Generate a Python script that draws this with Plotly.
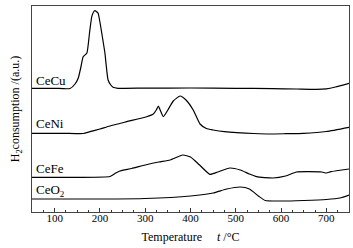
import plotly.graph_objects as go

# Temperature (°C) and H2 consumption (a.u., arbitrary offsets per curve)
cecu_t = [50, 100, 134, 145, 152, 158, 163, 171, 177, 182, 186, 189, 192, 196, 200, 204, 211, 218, 224, 229, 240, 300, 400, 500, 580, 634, 678, 700, 720, 750]
cecu_y = [123.7, 123.7, 123.5, 128, 133.7, 145, 155.3, 158.7, 179, 195.3, 200, 201.3, 200.5, 198.7, 190, 179, 159, 132, 127, 124.7, 123.7, 123.9, 124, 123.7, 123.4, 123, 122.7, 123.2, 125, 128.7]

ceni_t = [50, 120, 163, 178, 200, 222, 259, 303, 318, 325, 329, 333, 340, 350, 362, 377, 390, 406, 421, 435, 450, 475, 502, 540, 575, 610, 649, 700, 750]
ceni_y = [78.7, 78.7, 78.5, 80.3, 83, 86, 90.3, 95.3, 98, 102.5, 106, 102, 95.3, 102, 111, 116, 112, 102, 88, 83.5, 82, 80.3, 79.3, 78.5, 78, 78.3, 78.7, 80.5, 84.7]

cefe_t = [50, 150, 222, 235, 244, 270, 300, 330, 355, 383, 400, 420, 443, 460, 487, 510, 530, 546, 582, 610, 634, 660, 690, 700, 710, 750]
cefe_y = [34.7, 34.7, 35.5, 39, 41, 43.5, 47, 50, 52, 57, 55, 47, 37.7, 40, 44, 42, 38, 35.3, 34, 36, 40, 40.3, 40, 39, 40.3, 43]

ceo2_t = [50, 200, 300, 400, 450, 480, 510, 530, 550, 565, 600, 650, 700, 730, 750]
ceo2_y = [13, 13, 13.5, 16, 19, 23, 25, 23, 16, 11.5, 11, 11.5, 12.5, 14, 17]

labels = ["CeCu", "CeNi", "CeFe", "CeO<sub>2</sub>"]
label_y = [132, 89, 44, 22]

fig = go.Figure()
for t, y in [(cecu_t, cecu_y), (ceni_t, ceni_y), (cefe_t, cefe_y), (ceo2_t, ceo2_y)]:
    fig.add_trace(go.Scatter(x=t, y=y, mode="lines", line=dict(color="black", width=1.2, shape="spline", smoothing=0.5), showlegend=False))

for lab, ly in zip(labels, label_y):
    fig.add_annotation(x=55, y=ly, text=lab, showarrow=False, xanchor="left", yanchor="middle",
                       font=dict(family="Liberation Serif", size=13, color="black"))

fig.update_layout(
    width=353, height=248,
    margin=dict(l=32, r=4, t=6, b=36),
    plot_bgcolor="white", paper_bgcolor="white",
    font=dict(family="Liberation Serif", size=11, color="black"),
    xaxis=dict(range=[50, 750], tickvals=[100, 200, 300, 400, 500, 600, 700], automargin=False,
               ticks="inside", ticklen=4, tickcolor="#333", showgrid=False, zeroline=False,
               showline=True, linecolor="#444", linewidth=1, mirror=True, ticklabelstandoff=-4,
               minor=dict(dtick=25, ticks="inside", ticklen=2, tickcolor="#333"),
               title=dict(text="Temperature &nbsp;&nbsp;&nbsp; <i>t</i> /°C", standoff=9, font=dict(size=12))),
    yaxis=dict(range=[0, 206], showticklabels=False, ticks="", showgrid=False, zeroline=False, automargin=False,
               showline=True, linecolor="#444", linewidth=1, mirror=True,
               title=dict(text="H<sub>2</sub>consumption /(a.u.)", standoff=8, font=dict(size=12))),
)
fig.write_html("out.html", config={"displayModeBar": False},
               post_script="document.body.style.margin='0';document.body.style.overflow='hidden';")
